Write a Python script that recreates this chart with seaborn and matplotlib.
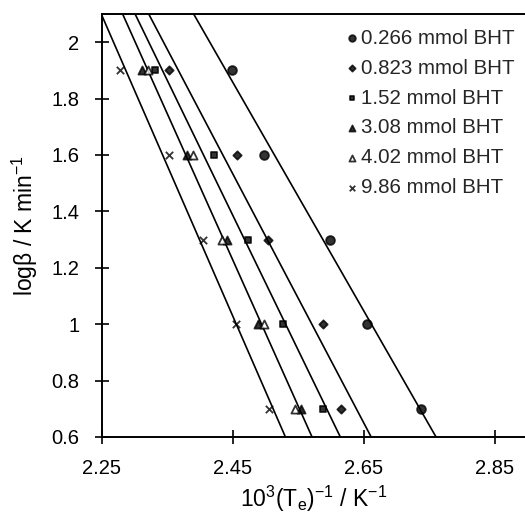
import matplotlib
matplotlib.use("Agg")
import matplotlib.pyplot as plt
import seaborn as sns
import numpy as np


# Kissinger-type plot: heating rate vs inverse peak temperature for BHT loadings
sns.set_theme(style="ticks")
plt.rcParams["font.family"] = ["Liberation Sans", "DejaVu Sans"]
plt.rcParams["mathtext.default"] = "regular"

log_beta = [1.9, 1.6, 1.3, 1.0, 0.7]

inv_t_0266 = [2.449, 2.498, 2.599, 2.655, 2.737]
inv_t_0823 = [2.352, 2.456, 2.504, 2.587, 2.615]
inv_t_152 = [2.331, 2.421, 2.474, 2.526, 2.588]
inv_t_308 = [2.311, 2.380, 2.441, 2.488, 2.554]
inv_t_402 = [2.321, 2.390, 2.433, 2.498, 2.545]
inv_t_986 = [2.278, 2.353, 2.404, 2.455, 2.506]

labels = ["0.266 mmol BHT", "0.823 mmol BHT", "1.52 mmol BHT",
          "3.08 mmol BHT", "4.02 mmol BHT", "9.86 mmol BHT"]

x_ticks = [2.25, 2.45, 2.65, 2.85]
x_tick_labels = ["2.25", "2.45", "2.65", "2.85"]
y_ticks = [0.6, 0.8, 1.0, 1.2, 1.4, 1.6, 1.8, 2.0]
y_tick_labels = ["0.6", "0.8", "1", "1.2", "1.4", "1.6", "1.8", "2"]

# (x values, marker, size, face colour, own fit line?)
series = [
    (inv_t_0266, "o", 40, "black", True),
    (inv_t_0823, "D", 18, "black", True),
    (inv_t_152, "s", 14, "black", True),
    (inv_t_308, "^", 34, "black", False),
    (inv_t_402, "^", 34, "white", False),
    (inv_t_986, "x", 28, "black", True),
]

fig = plt.figure(figsize=(5.25, 5.15), dpi=100)
ax = fig.add_axes([0.1937, 0.1515, 0.8063, 0.8214])
ax.set_xlim(2.25, 2.896)
ax.set_ylim(0.6, 2.1)

line_style = dict(color="black", lw=1.2)

for xs, marker, size, face, own_fit in series:
    sns.regplot(
        x=np.array(xs), y=np.array(log_beta), ax=ax,
        ci=None, truncate=False, marker=marker, fit_reg=own_fit,
        scatter_kws=dict(s=size, color="black", facecolors=face,
                         edgecolors="black", linewidths=1.3, zorder=3),
        line_kws=line_style,
    )

# the two triangle series share a single fitted line
sns.regplot(
    x=np.array(inv_t_308 + inv_t_402), y=np.array(log_beta + log_beta),
    ax=ax, ci=None, truncate=False, scatter=False, line_kws=line_style,
)

ax.set_xlim(2.25, 2.896)
ax.set_ylim(0.6, 2.1)
ax.set_xticks(x_ticks)
ax.set_xticklabels(x_tick_labels)
ax.set_yticks(y_ticks)
ax.set_yticklabels(y_tick_labels)

ax.tick_params(direction="inout", length=10, width=1.2, pad=11,
               labelsize=14.5, colors="black")
for side in ["top", "left", "bottom"]:
    ax.spines[side].set_visible(True)
    ax.spines[side].set_color("black")
    ax.spines[side].set_linewidth(1.4)
ax.spines["right"].set_visible(False)

ax.set_xlabel(r"10$^3$(T$_e$)$^{-1}$ / K$^{-1}$", fontsize=16.5,
              labelpad=4, color="black")
ax.set_ylabel(r"logβ / K min$^{-1}$", fontsize=16.5, labelpad=8,
              color="black")

handles = list(ax.collections)
ax.legend(handles, labels, loc="upper right", bbox_to_anchor=(0.975, 0.965),
          frameon=False, fontsize=14.8, handletextpad=0.2, labelspacing=0.53,
          handlelength=0.5, borderpad=0, borderaxespad=0, markerscale=0.75)

fig.savefig("out.png", dpi=100)
plt.close(fig)
